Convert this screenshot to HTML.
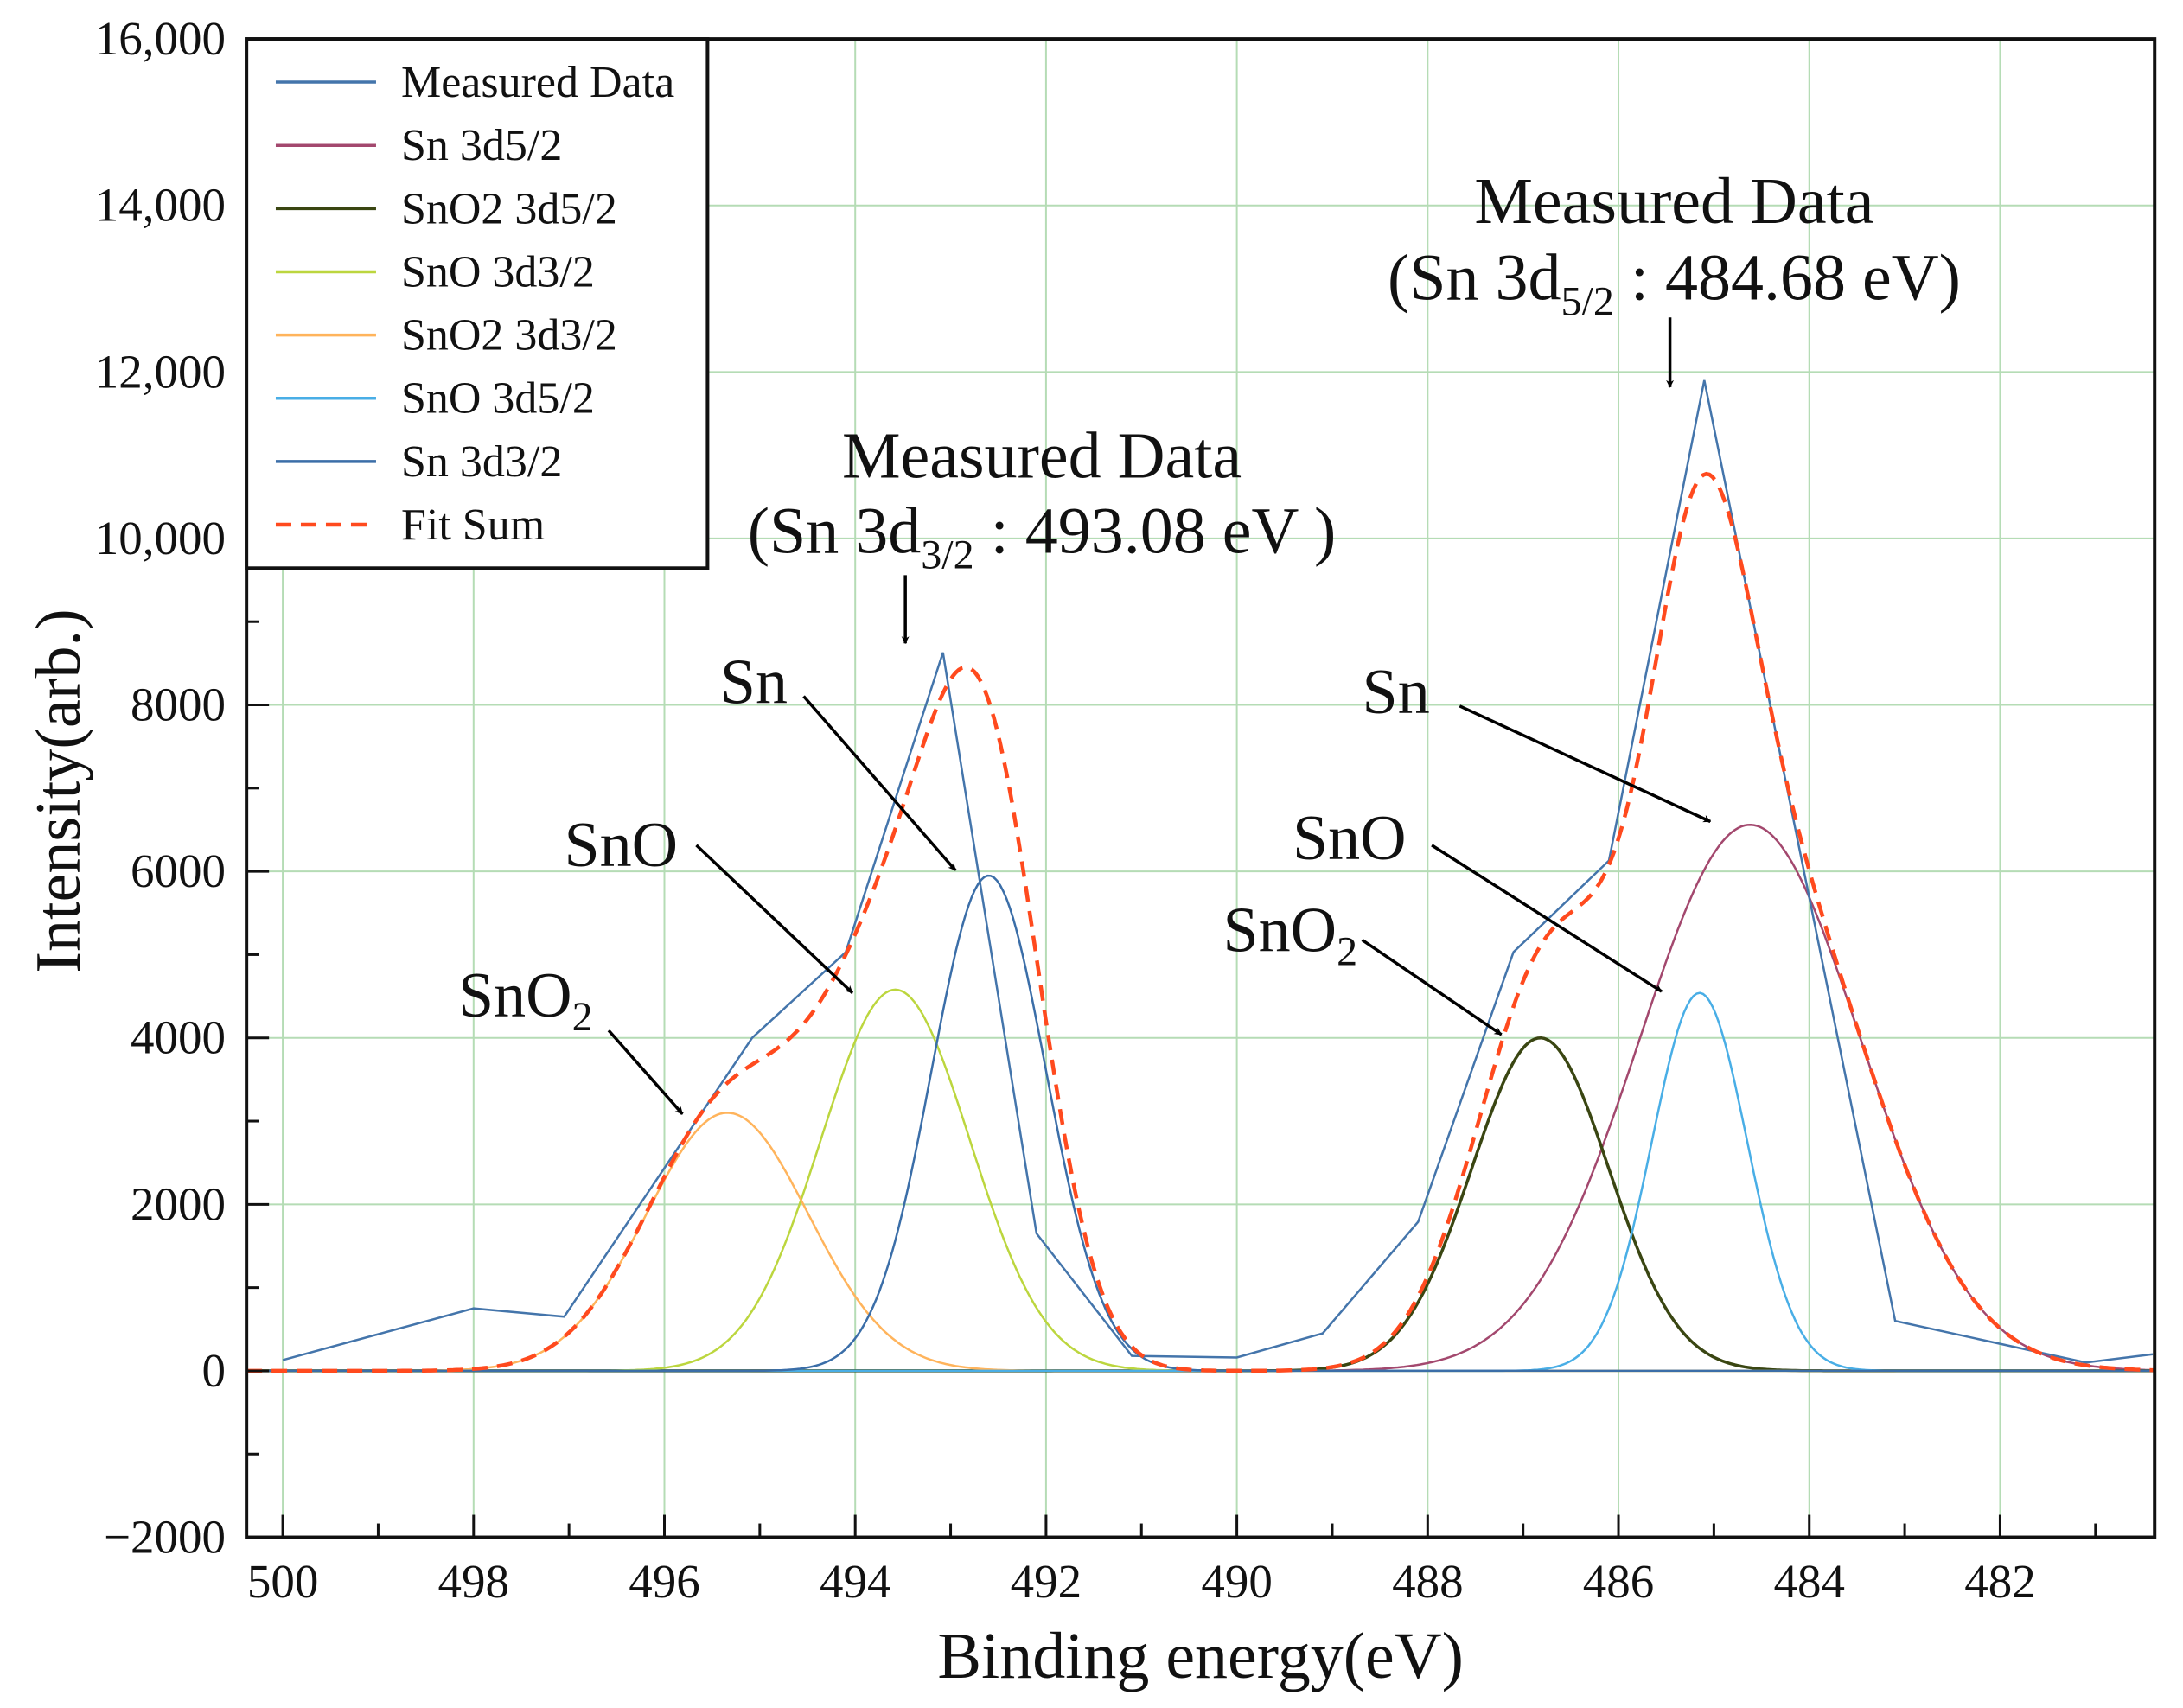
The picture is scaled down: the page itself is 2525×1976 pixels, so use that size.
<!DOCTYPE html>
<html><head><meta charset="utf-8"><style>
html,body{margin:0;padding:0;background:#fff;}
svg{display:block;font-family:"Liberation Serif",serif;}
</style></head>
<body>
<svg id="chart" width="2525" height="1976" viewBox="0 0 2525 1976" xmlns="http://www.w3.org/2000/svg">
<defs>
<marker id="ah" viewBox="0 0 10 10" refX="9" refY="5" markerWidth="9" markerHeight="9" orient="auto-start-reverse" markerUnits="userSpaceOnUse"><path d="M0,0 L10,5 L0,10 L3,5 z" fill="#000"/></marker>
</defs>
<g id="grid"></g>
<g id="series"></g>
<g id="axes"></g>
<g id="annot"></g>
<g id="legend"></g>
</svg>
<script>
// ---- data ----
var measuredX = [500.0, 498.0, 497.05, 495.08, 494.1, 493.08, 492.1, 491.1, 490.0, 489.1, 488.1, 487.1, 486.1, 485.1, 483.1, 481.1, 480.4];
var measuredY = [130, 750, 650, 4000, 5030, 8630, 1650, 180, 160, 450, 1790, 5030, 6130, 11900, 600, 100, 200];
var componentNames = ["Sn 3d5/2", "SnO2  3d5/2", "SnO  3d3/2", "SnO2  3d3/2", "SnO  3d5/2", "Sn 3d3/2"];
var componentCenters = [484.62, 486.82, 493.58, 495.34, 485.15, 492.6];
var componentHeights = [6560, 4000, 4580, 3100, 4540, 5950];
var componentWidths = [1.16, 0.72, 0.78, 0.85, 0.5, 0.6];
var yTicks = [16000, 14000, 12000, 10000, 8000, 6000, 4000, 2000, 0, -2000];
var yTickLabels = ["16,000", "14,000", "12,000", "10,000", "8000", "6000", "4000", "2000", "0", "\u22122000"];
var xTicks = [500, 498, 496, 494, 492, 490, 488, 486, 484, 482];
var xTickLabels = ["500", "498", "496", "494", "492", "490", "488", "486", "484", "482"];

// ---- layout ----
var s = 1.611;
var L = 177 * s, R = 1547 * s, T = 28 * s, B = 1104 * s;
var xMin = 500.38, xMax = 480.38, yMin = -2000, yMax = 16000;
var colors = ["#a3486e", "#3a4612", "#bcd63e", "#ffb45c", "#49aee6", "#3b6ea8"];
var measColor = "#4475ab", fitColor = "#ff4a1e";
function X(v) { return L + (v - xMin) / (xMax - xMin) * (R - L); }
function Y(v) { return B - (v - yMin) / (yMax - yMin) * (B - T); }
var NS = "http://www.w3.org/2000/svg";
function mk(tag, attrs, parent) {
  var e = document.createElementNS(NS, tag);
  for (var k in attrs) e.setAttribute(k, attrs[k]);
  parent.appendChild(e);
  return e;
}
var grid = document.getElementById('grid'), series = document.getElementById('series'),
    axes = document.getElementById('axes'), annot = document.getElementById('annot'), legend = document.getElementById('legend');

// grid
xTicks.forEach(function (t) {
  var g = mk('line', {x1: X(t), x2: X(t), y1: T, y2: B, stroke: '#b5dcb5', 'stroke-width': 2}, grid);
  
  
});
yTicks.forEach(function (t) {
  var g = mk('line', {x1: L, x2: R, y1: Y(t), y2: Y(t), stroke: '#b5dcb5', 'stroke-width': 2}, grid);
  
  
});

// components
function gauss(i, x) {
  var d = x - componentCenters[i];
  return componentHeights[i] * Math.exp(-d * d / (2 * componentWidths[i] * componentWidths[i]));
}
var N = 600;
for (var i = 0; i < componentNames.length; i++) {
  var pts = [];
  for (var k = 0; k <= N; k++) {
    var x = xMin + (xMax - xMin) * k / N;
    pts.push(X(x).toFixed(1) + ',' + Y(gauss(i, x)).toFixed(1));
  }
  var p = mk('polyline', {points: pts.join(' '), fill: 'none', stroke: colors[i], 'stroke-width': i === 1 ? 3.5 : 2.5}, series);
  
  
}
// measured
var mp = [];
for (var j = 0; j < measuredX.length; j++) mp.push(X(measuredX[j]).toFixed(1) + ',' + Y(measuredY[j]).toFixed(1));
var meas = mk('polyline', {points: mp.join(' '), fill: 'none', stroke: measColor, 'stroke-width': 2.5}, series);


// fit sum
var fp = [];
for (var k = 0; k <= N; k++) {
  var x = xMin + (xMax - xMin) * k / N, sum = 0;
  for (var i = 0; i < componentNames.length; i++) sum += gauss(i, x);
  fp.push(X(x).toFixed(1) + ',' + Y(sum).toFixed(1));
}
var fit = mk('polyline', {points: fp.join(' '), fill: 'none', stroke: fitColor, 'stroke-width': 4.5, 'stroke-dasharray': '18,11'}, series);



// axes frame
var fr = mk('rect', {x: L, y: T, width: R - L, height: B - T, fill: 'none', stroke: '#111', 'stroke-width': 4}, axes);


// x ticks
for (var v = 500; v >= 481; v -= 1) {
  var major = (v % 2 === 0);
  var tk = mk('line', {x1: X(v), x2: X(v), y1: B, y2: B - (major ? 26 : 16), stroke: '#111', 'stroke-width': 3}, axes);
  
  
}
xTicks.forEach(function (t, idx) {
  var tx = mk('text', {x: X(t), y: 1848, 'font-size': 55, 'text-anchor': 'middle', fill: '#111'}, axes);
  tx.textContent = xTickLabels[idx];
  
  
});
// y ticks
for (var v = -2000; v <= 16000; v += 1000) {
  var major = (v % 2000 === 0);
  var tk = mk('line', {x1: L, x2: L + (major ? 26 : 14), y1: Y(v), y2: Y(v), stroke: '#111', 'stroke-width': 3}, axes);
  
  
}
yTicks.forEach(function (t, idx) {
  var tx = mk('text', {x: 261, y: Y(t) + 18, 'font-size': 55, 'text-anchor': 'end', fill: '#111'}, axes);
  tx.textContent = yTickLabels[idx];
  
  
});
var xt = mk('text', {x: 862 * s, y: 1941, 'font-size': 76, 'text-anchor': 'middle', fill: '#111'}, axes);
xt.textContent = 'Binding energy(eV)';


var yt = mk('text', {x: 0, y: 0, 'font-size': 74, 'text-anchor': 'middle', fill: '#111', transform: 'translate(92,915) rotate(-90)'}, axes);
yt.textContent = 'Intensity(arb.)';



// annotations
function txt(x, y, size, content, name, anchor) {
  var t = mk('text', {x: x, y: y, 'font-size': size, 'text-anchor': anchor || 'start', fill: '#111'}, annot);
  t.innerHTML = content;
  
  
  return t;
}
function arrow(x1, y1, x2, y2, name) {
  var a = mk('line', {x1: x1, y1: y1, x2: x2, y2: y2, stroke: '#000', 'stroke-width': 3.5, 'marker-end': 'url(#ah)'}, annot);
  
  
}
txt(748 * s, 343 * s, 76, 'Measured Data', 'left-peak-title', 'middle');
txt(748 * s, 397 * s, 76, '(Sn 3d<tspan font-size="48" dy="18">3/2</tspan><tspan dy="-18"> : 493.08 eV )</tspan>', 'left-peak-value', 'middle');
arrow(650 * s, 413 * s, 650 * s, 462 * s, 'left-peak-arrow');
txt(1202 * s, 160 * s, 76, 'Measured Data', 'right-peak-title', 'middle');
txt(1202 * s, 215 * s, 76, '(Sn 3d<tspan font-size="48" dy="18">5/2</tspan><tspan dy="-18"> : 484.68 eV)</tspan>', 'right-peak-value', 'middle');
arrow(1199 * s, 228 * s, 1199 * s, 278 * s, 'right-peak-arrow');

txt(517 * s, 505 * s, 74, 'Sn', 'label-sn-left');
arrow(577 * s, 500 * s, 686 * s, 625 * s, 'arrow-sn-left');
txt(405 * s, 622 * s, 74, 'SnO', 'label-sno-left');
arrow(500 * s, 607 * s, 612 * s, 713 * s, 'arrow-sno-left');
txt(329 * s, 730 * s, 74, 'SnO<tspan font-size="48" dy="16">2</tspan>', 'label-sno2-left');
arrow(437 * s, 740 * s, 490 * s, 800 * s, 'arrow-sno2-left');
txt(978 * s, 512 * s, 74, 'Sn', 'label-sn-right');
arrow(1048 * s, 507 * s, 1228 * s, 590 * s, 'arrow-sn-right');
txt(928 * s, 617 * s, 74, 'SnO', 'label-sno-right');
arrow(1028 * s, 607 * s, 1193 * s, 712 * s, 'arrow-sno-right');
txt(878 * s, 683 * s, 74, 'SnO<tspan font-size="48" dy="16">2</tspan>', 'label-sno2-right');
arrow(978 * s, 675 * s, 1078 * s, 743 * s, 'arrow-sno2-right');

// legend
var lb = mk('rect', {x: L, y: T, width: 508 * s - L, height: 408 * s - T, fill: '#fff', stroke: '#111', 'stroke-width': 4}, legend);


var legNames = ["Measured Data"].concat(componentNames).concat(["Fit Sum"]);
var legColors = [measColor].concat(colors).concat([fitColor]);
for (var i = 0; i < legNames.length; i++) {
  var yy = 59 * s + 45.4 * s * i;
  var isFit = (i === legNames.length - 1);
  var ln = mk('line', {x1: 198 * s, x2: 270 * s, y1: yy, y2: yy, stroke: legColors[i], 'stroke-width': isFit ? 4.5 : 3.5}, legend);
  if (isFit) ln.setAttribute('stroke-dasharray', '18,11');
  
  
  var lt = mk('text', {x: 288 * s, y: yy + 17, 'font-size': 52, fill: '#111', 'xml:space': 'preserve'}, legend);
  lt.textContent = legNames[i];
  
  
}
</script>
</body></html>
